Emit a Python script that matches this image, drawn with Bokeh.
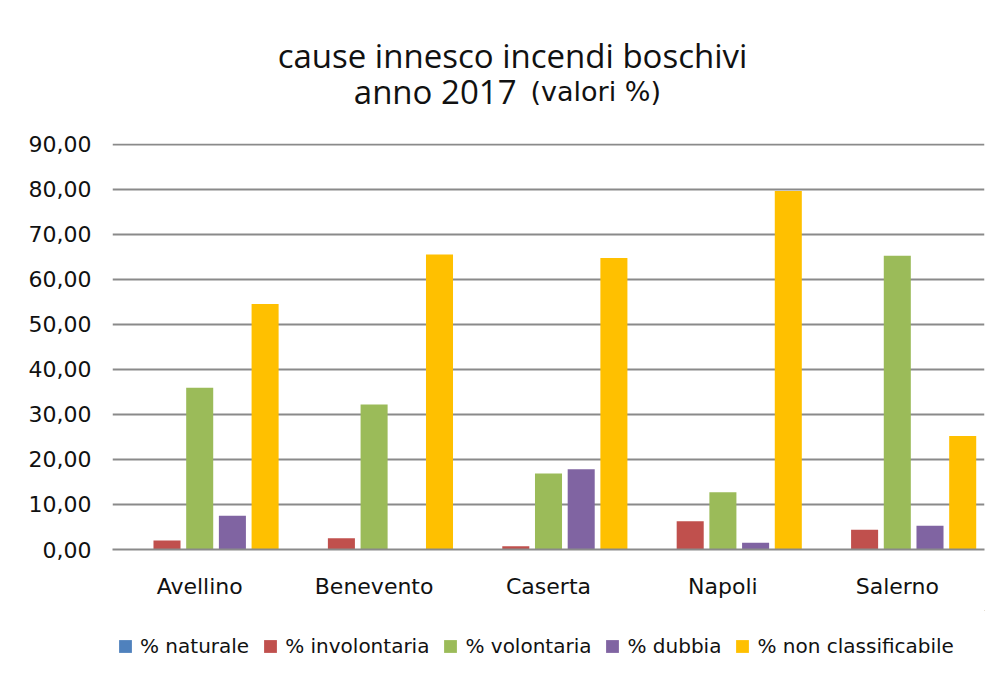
from bokeh.plotting import figure
from bokeh.models import (ColumnDataSource, FactorRange, Range1d, FixedTicker, Label,
                          Legend, LegendItem)
from bokeh.layouts import column
from bokeh.transform import dodge
from bokeh.embed import file_html
from bokeh.resources import INLINE

# ---- data ----
categories = ["Avellino", "Benevento", "Caserta", "Napoli", "Salerno"]
series_names = ["% naturale", "% involontaria", "% volontaria", "% dubbia", "% non classificabile"]
naturale = [0.0, 0.0, 0.0, 0.0, 0.0]
involontaria = [2.0, 2.5, 0.7, 6.3, 4.4]
volontaria = [35.9, 32.2, 16.9, 12.7, 65.2]
dubbia = [7.5, 0.0, 17.8, 1.5, 5.3]
non_classificabile = [54.5, 65.5, 64.7, 79.6, 25.2]
y_ticks = [0, 10, 20, 30, 40, 50, 60, 70, 80, 90]
y_tick_labels = ["0,00", "10,00", "20,00", "30,00", "40,00", "50,00", "60,00", "70,00", "80,00", "90,00"]
title_line1 = "cause innesco incendi boschivi"
title_line2a = "anno 2017"
title_line2b = "(valori %)"

colors = ["#4F81BD", "#C0504D", "#9BBB59", "#8064A2", "#FFC000"]
keys = ["naturale", "involontaria", "volontaria", "dubbia", "non_classificabile"]
source = ColumnDataSource(dict(cat=categories, naturale=naturale, involontaria=involontaria,
                               volontaria=volontaria, dubbia=dubbia,
                               non_classificabile=non_classificabile))

AX_FONT = "DejaVu Sans"
TITLE_FONT = "Open Sans"
TXT = "#111111"
W = 995


def bare_figure(h):
    f = figure(width=W, height=h, x_range=Range1d(0, 1), y_range=Range1d(0, 1),
               x_axis_type=None, y_axis_type=None, output_backend="svg",
               toolbar_location=None, min_border=0)
    f.outline_line_color = None
    f.grid.visible = False
    f.background_fill_color = "white"
    f.border_fill_color = "white"
    return f


# ---- title strip ----
pt = bare_figure(120)
pt.add_layout(Label(x=512, y=55, x_units="canvas", y_units="canvas",
                    text=title_line1, text_align="center",
                    text_baseline="alphabetic", text_font=TITLE_FONT,
                    text_font_size="33px", text_color=TXT))
pt.add_layout(Label(x=516, y=91, x_units="canvas", y_units="canvas",
                    text=title_line2a, text_align="right",
                    text_baseline="alphabetic", text_font=TITLE_FONT,
                    text_font_size="33px", text_color=TXT))
pt.add_layout(Label(x=530, y=91, x_units="canvas", y_units="canvas",
                    text=title_line2b, text_align="left",
                    text_baseline="alphabetic", text_font=AX_FONT,
                    text_font_size="27px", text_color=TXT))

# ---- main chart ----
p = figure(x_range=FactorRange(*categories), y_range=Range1d(0, 90.15),
           width=W, height=490, output_backend="svg", toolbar_location=None,
           min_border_left=112, min_border_right=11, min_border_top=23, min_border_bottom=61)
p.outline_line_color = None
p.background_fill_color = "white"
p.border_fill_color = "white"

offsets = [-0.375, -0.1875, 0.0, 0.1875, 0.375]
for k, off, c in zip(keys, offsets, colors):
    p.vbar(x=dodge("cat", off, range=p.x_range), top=k, width=0.155, bottom=0,
           source=source, fill_color=c, line_color=None)

p.yaxis.ticker = FixedTicker(ticks=y_ticks)
p.yaxis.major_label_overrides = {t: l for t, l in zip(y_ticks, y_tick_labels)}
p.yaxis.axis_line_color = None
p.yaxis.major_tick_line_color = None
p.yaxis.minor_tick_line_color = None
p.yaxis.major_tick_out = 0
p.yaxis.major_label_standoff = 21
p.yaxis.major_label_text_font = AX_FONT
p.yaxis.major_label_text_font_size = "22px"
p.yaxis.major_label_text_color = TXT

p.xaxis.axis_line_color = "#8a8a8a"
p.xaxis.axis_line_width = 2
p.xaxis.major_tick_line_color = None
p.xaxis.minor_tick_line_color = None
p.xaxis.major_tick_out = 0
p.xaxis.major_label_standoff = 24
p.xaxis.major_label_text_font = AX_FONT
p.xaxis.major_label_text_font_size = "22px"
p.xaxis.major_label_text_color = TXT

p.xgrid.grid_line_color = None
p.ygrid.grid_line_color = "#8a8a8a"
p.ygrid.grid_line_width = 2

# ---- legend strip (swatch renderers sit outside the visible range) ----
pl = bare_figure(62)
leg_items = []
for name, c in zip(series_names, colors):
    r = pl.vbar(x=[5.0], top=[6.0], bottom=[5.5], width=0.1, fill_color=c, line_color=None)
    leg_items.append(LegendItem(label=name, renderers=[r]))
legend = Legend(items=leg_items, orientation="horizontal", location=(5, 14),
                glyph_width=16, glyph_height=16, label_standoff=7, spacing=13,
                padding=0, margin=0, border_line_color=None, background_fill_alpha=0,
                label_text_font=AX_FONT, label_text_font_size="20px",
                label_text_color=TXT)
pl.add_layout(legend, "center")

layout = column(pt, p, pl, spacing=0)
open("out.html", "w").write(file_html(layout, INLINE))
